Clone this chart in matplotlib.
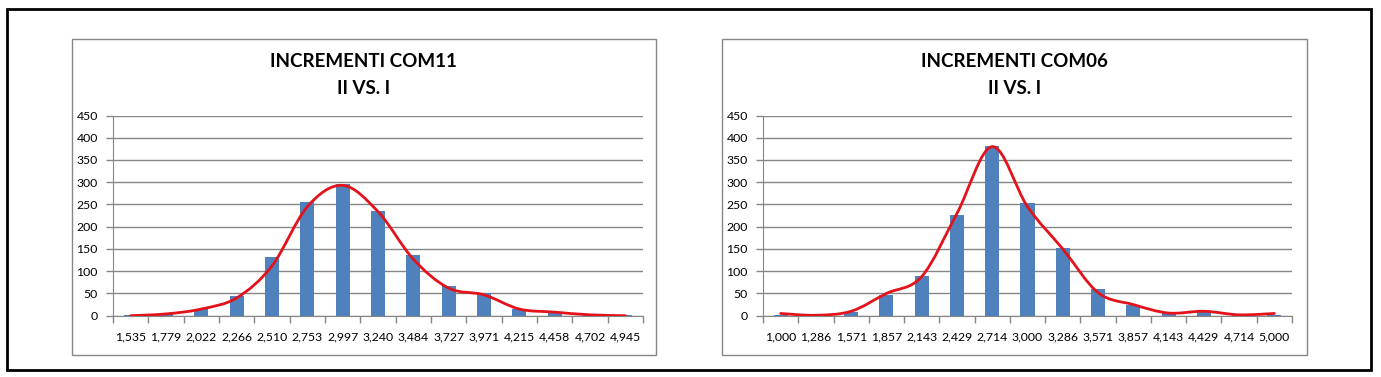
import numpy as np
import matplotlib
matplotlib.use("Agg")
from matplotlib import pyplot as plt
from matplotlib.path import Path
from matplotlib.patches import PathPatch, Rectangle

# Data
labels_com11 = ["1,535", "1,779", "2,022", "2,266", "2,510", "2,753", "2,997", "3,240",
                "3,484", "3,727", "3,971", "4,215", "4,458", "4,702", "4,945"]
counts_com11 = [2, 3, 15, 45, 132, 256, 295, 236, 137, 67, 50, 16, 8, 1, 2]
fit_com11 = [0, 4, 15, 40, 112, 245, 293, 234, 127, 62, 47, 15, 8, 2, 0]

labels_com06 = ["1,000", "1,286", "1,571", "1,857", "2,143", "2,429", "2,714", "3,000",
                "3,286", "3,571", "3,857", "4,143", "4,429", "4,714", "5,000"]
counts_com06 = [2, 0, 9, 47, 90, 227, 382, 253, 153, 60, 25, 5, 10, 1, 2]
fit_com06 = [5, 1, 10, 50, 88, 230, 380, 245, 150, 52, 25, 6, 10, 2, 5]

titles = ["INCREMENTI COM11\nII VS. I", "INCREMENTI COM06\nII VS. I"]

W, H = 1381, 377
BAR = "#4F81BD"
RED = "#E3121B"
GRID = "#868686"
FONT = "Lato"

fig = plt.figure(figsize=(W / 100, H / 100), dpi=100)


def px(x0, y0, x1, y1):
    # pixel box (top-left origin) -> figure fraction
    return [x0 / W, 1 - y1 / H, (x1 - x0) / W, (y1 - y0) / H]


def smooth_path(x, y):
    # bezier segments through the points (like Excel's smoothed line)
    pts = np.column_stack([x, y]).astype(float)
    ext = np.vstack([pts[0], pts, pts[-1]])
    verts = [pts[0]]
    codes = [Path.MOVETO]
    for i in range(len(pts) - 1):
        p0, p1, p2, p3 = ext[i], ext[i + 1], ext[i + 2], ext[i + 3]
        verts += [p1 + (p2 - p0) / 6, p2 - (p3 - p1) / 6, p2]
        codes += [Path.CURVE4] * 3
    return Path(verts, codes)


# outer black frame
fig.add_artist(Rectangle((7 / W, 1 - 370 / H), 1364 / W, 361 / H, transform=fig.transFigure,
                         fill=False, edgecolor="black", linewidth=2))

boxes = [(71.5, 39, 656, 355), (721.5, 39, 1307, 355)]
plots = [(113, 115.5, 643, 315.7), (763, 115.5, 1292, 315.7)]
datasets = [(labels_com11, counts_com11, fit_com11), (labels_com06, counts_com06, fit_com06)]

for box, area, title, (labels, counts, fit) in zip(boxes, plots, titles, datasets):
    bx0, by0, bx1, by1 = box
    fig.add_artist(Rectangle((bx0 / W, 1 - by1 / H), (bx1 - bx0) / W, (by1 - by0) / H,
                             transform=fig.transFigure, fill=False, edgecolor=GRID, linewidth=1))
    cx = (bx0 + bx1) / 2 / W
    line1, line2 = title.split("\n")
    fig.text(cx, 1 - 61.5 / H, line1, ha="center", va="center", fontsize=13.5,
             fontweight="bold", family=FONT)
    fig.text(cx, 1 - 88 / H, line2, ha="center", va="center", fontsize=13.5,
             fontweight="bold", family=FONT)

    ax = fig.add_axes(px(*area))
    x = np.arange(len(labels))
    ax.bar(x, counts, width=0.4, color=BAR, zorder=2)
    ax.add_patch(PathPatch(smooth_path(x, fit), fill=False, edgecolor=RED, linewidth=2,
                           zorder=3, capstyle="round"))
    ax.set_xlim(-0.5, len(labels) - 0.5)
    ax.set_ylim(0, 450)
    ax.set_yticks(np.arange(0, 451, 50))
    ax.yaxis.grid(True, color=GRID, linewidth=1, zorder=0)
    ax.set_axisbelow(True)

    ax.set_xticks(np.arange(-0.5, len(labels), 1.0))
    ax.set_xticklabels([])
    ax.set_xticks(x, minor=True)
    ax.set_xticklabels(labels, minor=True, fontsize=8.8, family=FONT)
    ax.tick_params(axis="x", which="major", length=5, width=1, color=GRID, direction="out")
    ax.tick_params(axis="x", which="minor", length=0, pad=11)
    ax.tick_params(axis="y", length=5, width=1, color=GRID, labelsize=8.8, pad=6)
    for lab in ax.get_yticklabels():
        lab.set_family(FONT)

    for side in ["top", "right"]:
        ax.spines[side].set_visible(False)
    ax.spines["left"].set_color(GRID)
    ax.spines["bottom"].set_color(GRID)

fig.savefig("out.png", dpi=100, facecolor="white")
